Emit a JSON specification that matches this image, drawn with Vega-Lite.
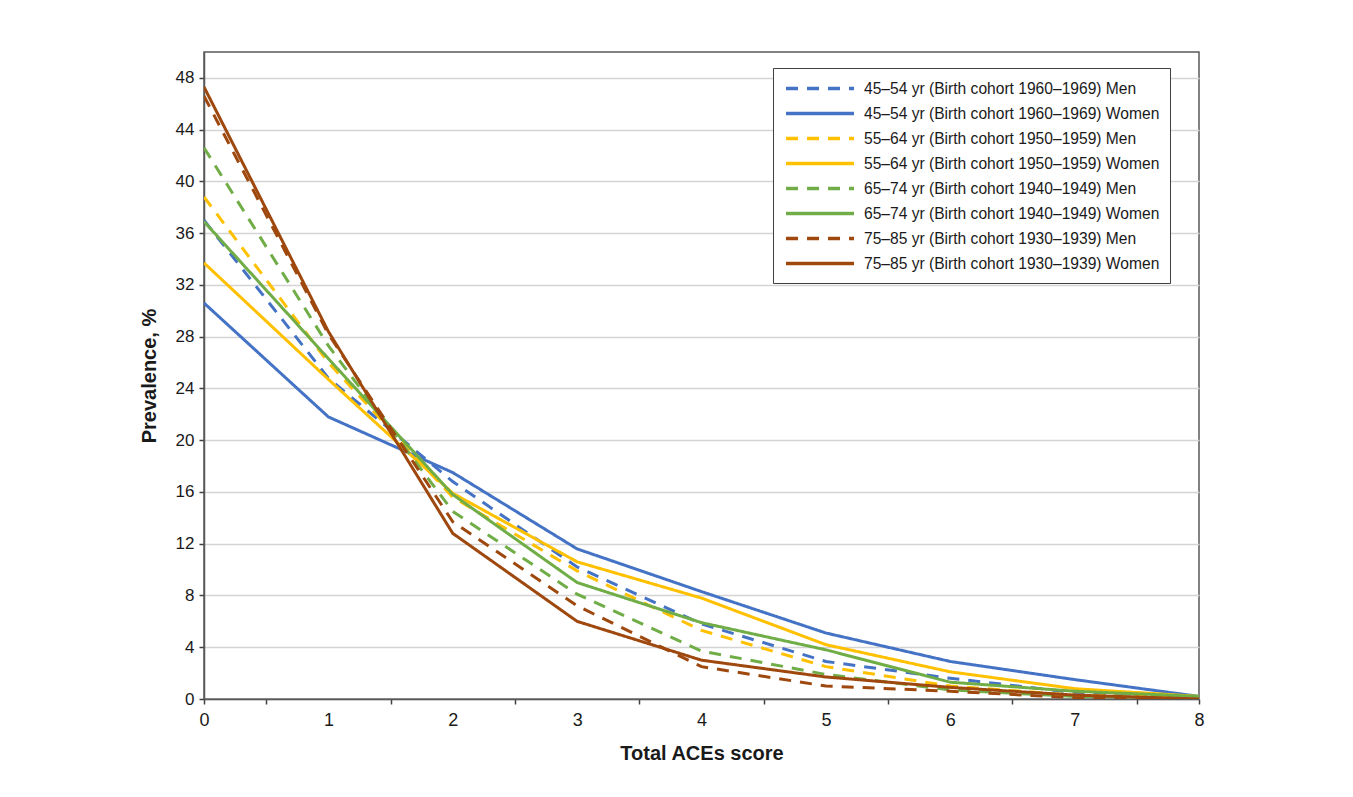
{
  "$schema": "https://vega.github.io/schema/vega-lite/v6.json",
  "width": 995,
  "height": 647,
  "autosize": {"type": "none"},
  "padding": {"left": 204, "top": 52, "right": 154, "bottom": 98},
  "background": "white",
  "config": {
    "font": "Liberation Sans",
    "view": {"stroke": "#595959", "strokeWidth": 1.5},
    "axis": {
      "domainColor": "#595959",
      "domainWidth": 1.5,
      "tickColor": "#404040",
      "tickWidth": 1.5,
      "tickSize": 5,
      "labelColor": "#1a1a1a",
      "labelFontSize": 17,
      "titleFontSize": 20,
      "titleFontWeight": "bold",
      "titleColor": "#1a1a1a"
    },
    "legend": {
      "orient": "none",
      "legendX": 569,
      "legendY": 16,
      "padding": 10,
      "strokeColor": "#404040",
      "fillColor": "white",
      "symbolSize": 289,
      "symbolStrokeWidth": 3.5,
      "symbolType": "M-0.88,0H7.12",
      "labelFontSize": 15.6,
      "labelColor": "#1a1a1a",
      "labelLimit": 400,
      "labelOffset": 60,
      "rowPadding": 5
    }
  },
  "data": {
    "values": [
      {"score": 0, "series": "45–54 yr (Birth cohort 1960–1969) Men", "value": 37.0},
      {"score": 1, "series": "45–54 yr (Birth cohort 1960–1969) Men", "value": 24.8},
      {"score": 2, "series": "45–54 yr (Birth cohort 1960–1969) Men", "value": 16.8},
      {"score": 3, "series": "45–54 yr (Birth cohort 1960–1969) Men", "value": 10.2},
      {"score": 4, "series": "45–54 yr (Birth cohort 1960–1969) Men", "value": 5.8},
      {"score": 5, "series": "45–54 yr (Birth cohort 1960–1969) Men", "value": 2.9},
      {"score": 6, "series": "45–54 yr (Birth cohort 1960–1969) Men", "value": 1.6},
      {"score": 7, "series": "45–54 yr (Birth cohort 1960–1969) Men", "value": 0.5},
      {"score": 8, "series": "45–54 yr (Birth cohort 1960–1969) Men", "value": 0.1},
      {"score": 0, "series": "45–54 yr (Birth cohort 1960–1969) Women", "value": 30.6},
      {"score": 1, "series": "45–54 yr (Birth cohort 1960–1969) Women", "value": 21.8},
      {"score": 2, "series": "45–54 yr (Birth cohort 1960–1969) Women", "value": 17.5},
      {"score": 3, "series": "45–54 yr (Birth cohort 1960–1969) Women", "value": 11.6},
      {"score": 4, "series": "45–54 yr (Birth cohort 1960–1969) Women", "value": 8.3},
      {"score": 5, "series": "45–54 yr (Birth cohort 1960–1969) Women", "value": 5.1},
      {"score": 6, "series": "45–54 yr (Birth cohort 1960–1969) Women", "value": 2.9},
      {"score": 7, "series": "45–54 yr (Birth cohort 1960–1969) Women", "value": 1.5},
      {"score": 8, "series": "45–54 yr (Birth cohort 1960–1969) Women", "value": 0.2},
      {"score": 0, "series": "55–64 yr (Birth cohort 1950–1959) Men", "value": 38.8},
      {"score": 1, "series": "55–64 yr (Birth cohort 1950–1959) Men", "value": 26.0},
      {"score": 2, "series": "55–64 yr (Birth cohort 1950–1959) Men", "value": 15.6},
      {"score": 3, "series": "55–64 yr (Birth cohort 1950–1959) Men", "value": 9.9},
      {"score": 4, "series": "55–64 yr (Birth cohort 1950–1959) Men", "value": 5.3},
      {"score": 5, "series": "55–64 yr (Birth cohort 1950–1959) Men", "value": 2.5},
      {"score": 6, "series": "55–64 yr (Birth cohort 1950–1959) Men", "value": 1.0},
      {"score": 7, "series": "55–64 yr (Birth cohort 1950–1959) Men", "value": 0.3},
      {"score": 8, "series": "55–64 yr (Birth cohort 1950–1959) Men", "value": 0.1},
      {"score": 0, "series": "55–64 yr (Birth cohort 1950–1959) Women", "value": 33.7},
      {"score": 1, "series": "55–64 yr (Birth cohort 1950–1959) Women", "value": 24.7},
      {"score": 2, "series": "55–64 yr (Birth cohort 1950–1959) Women", "value": 15.9},
      {"score": 3, "series": "55–64 yr (Birth cohort 1950–1959) Women", "value": 10.6},
      {"score": 4, "series": "55–64 yr (Birth cohort 1950–1959) Women", "value": 7.8},
      {"score": 5, "series": "55–64 yr (Birth cohort 1950–1959) Women", "value": 4.2},
      {"score": 6, "series": "55–64 yr (Birth cohort 1950–1959) Women", "value": 2.1},
      {"score": 7, "series": "55–64 yr (Birth cohort 1950–1959) Women", "value": 0.8},
      {"score": 8, "series": "55–64 yr (Birth cohort 1950–1959) Women", "value": 0.2},
      {"score": 0, "series": "65–74 yr (Birth cohort 1940–1949) Men", "value": 42.6},
      {"score": 1, "series": "65–74 yr (Birth cohort 1940–1949) Men", "value": 27.3},
      {"score": 2, "series": "65–74 yr (Birth cohort 1940–1949) Men", "value": 14.5},
      {"score": 3, "series": "65–74 yr (Birth cohort 1940–1949) Men", "value": 8.1},
      {"score": 4, "series": "65–74 yr (Birth cohort 1940–1949) Men", "value": 3.7},
      {"score": 5, "series": "65–74 yr (Birth cohort 1940–1949) Men", "value": 1.9},
      {"score": 6, "series": "65–74 yr (Birth cohort 1940–1949) Men", "value": 0.7},
      {"score": 7, "series": "65–74 yr (Birth cohort 1940–1949) Men", "value": 0.2},
      {"score": 8, "series": "65–74 yr (Birth cohort 1940–1949) Men", "value": 0.1},
      {"score": 0, "series": "65–74 yr (Birth cohort 1940–1949) Women", "value": 36.9},
      {"score": 1, "series": "65–74 yr (Birth cohort 1940–1949) Women", "value": 26.3},
      {"score": 2, "series": "65–74 yr (Birth cohort 1940–1949) Women", "value": 15.8},
      {"score": 3, "series": "65–74 yr (Birth cohort 1940–1949) Women", "value": 9.0},
      {"score": 4, "series": "65–74 yr (Birth cohort 1940–1949) Women", "value": 5.9},
      {"score": 5, "series": "65–74 yr (Birth cohort 1940–1949) Women", "value": 3.8},
      {"score": 6, "series": "65–74 yr (Birth cohort 1940–1949) Women", "value": 1.3},
      {"score": 7, "series": "65–74 yr (Birth cohort 1940–1949) Women", "value": 0.6},
      {"score": 8, "series": "65–74 yr (Birth cohort 1940–1949) Women", "value": 0.2},
      {"score": 0, "series": "75–85 yr (Birth cohort 1930–1939) Men", "value": 46.6},
      {"score": 1, "series": "75–85 yr (Birth cohort 1930–1939) Men", "value": 28.2},
      {"score": 2, "series": "75–85 yr (Birth cohort 1930–1939) Men", "value": 13.7},
      {"score": 3, "series": "75–85 yr (Birth cohort 1930–1939) Men", "value": 7.2},
      {"score": 4, "series": "75–85 yr (Birth cohort 1930–1939) Men", "value": 2.5},
      {"score": 5, "series": "75–85 yr (Birth cohort 1930–1939) Men", "value": 1.0},
      {"score": 6, "series": "75–85 yr (Birth cohort 1930–1939) Men", "value": 0.6},
      {"score": 7, "series": "75–85 yr (Birth cohort 1930–1939) Men", "value": 0.1},
      {"score": 8, "series": "75–85 yr (Birth cohort 1930–1939) Men", "value": 0.0},
      {"score": 0, "series": "75–85 yr (Birth cohort 1930–1939) Women", "value": 47.3},
      {"score": 1, "series": "75–85 yr (Birth cohort 1930–1939) Women", "value": 28.4},
      {"score": 2, "series": "75–85 yr (Birth cohort 1930–1939) Women", "value": 12.8},
      {"score": 3, "series": "75–85 yr (Birth cohort 1930–1939) Women", "value": 6.0},
      {"score": 4, "series": "75–85 yr (Birth cohort 1930–1939) Women", "value": 3.0},
      {"score": 5, "series": "75–85 yr (Birth cohort 1930–1939) Women", "value": 1.7},
      {"score": 6, "series": "75–85 yr (Birth cohort 1930–1939) Women", "value": 0.9},
      {"score": 7, "series": "75–85 yr (Birth cohort 1930–1939) Women", "value": 0.3},
      {"score": 8, "series": "75–85 yr (Birth cohort 1930–1939) Women", "value": 0.0}
    ]
  },
  "mark": {"type": "line", "strokeWidth": 3, "strokeCap": "butt", "clip": true},
  "encoding": {
    "x": {
      "field": "score",
      "type": "quantitative",
      "scale": {"domain": [0, 8], "nice": false, "zero": false},
      "axis": {
        "title": "Total ACEs score",
        "values": [0, 0.5, 1, 1.5, 2, 2.5, 3, 3.5, 4, 4.5, 5, 5.5, 6, 6.5, 7, 7.5, 8],
        "labelExpr": "datum.value % 1 === 0 ? format(datum.value, 'd') : ''",
        "labelFlush": false,
        "tickOpacity": {"expr": "(datum.value % 1 === 0 && datum.value > 0 && datum.value < 8) ? 0 : 1"},
        "grid": false,
        "labelFontSize": 18,
        "labelPadding": 7,
        "titlePadding": 14
      }
    },
    "y": {
      "field": "value",
      "type": "quantitative",
      "scale": {"domain": [0, 50], "nice": false},
      "axis": {
        "title": "Prevalence, %",
        "values": [0, 4, 8, 12, 16, 20, 24, 28, 32, 36, 40, 44, 48],
        "grid": true,
        "gridColor": "#d4d4d4",
        "gridWidth": 1.5,
        "labelPadding": 5,
        "titlePadding": 16
      }
    },
    "color": {
      "field": "series",
      "type": "nominal",
      "scale": {
        "domain": [
          "45–54 yr (Birth cohort 1960–1969) Men",
          "45–54 yr (Birth cohort 1960–1969) Women",
          "55–64 yr (Birth cohort 1950–1959) Men",
          "55–64 yr (Birth cohort 1950–1959) Women",
          "65–74 yr (Birth cohort 1940–1949) Men",
          "65–74 yr (Birth cohort 1940–1949) Women",
          "75–85 yr (Birth cohort 1930–1939) Men",
          "75–85 yr (Birth cohort 1930–1939) Women"
        ],
        "range": ["#4472C4", "#4472C4", "#FFC000", "#FFC000", "#70AD47", "#70AD47", "#9E480E", "#9E480E"]
      },
      "legend": {"title": null}
    },
    "strokeDash": {
      "field": "series",
      "type": "nominal",
      "scale": {
        "domain": [
          "45–54 yr (Birth cohort 1960–1969) Men",
          "45–54 yr (Birth cohort 1960–1969) Women",
          "55–64 yr (Birth cohort 1950–1959) Men",
          "55–64 yr (Birth cohort 1950–1959) Women",
          "65–74 yr (Birth cohort 1940–1949) Men",
          "65–74 yr (Birth cohort 1940–1949) Women",
          "75–85 yr (Birth cohort 1930–1939) Men",
          "75–85 yr (Birth cohort 1930–1939) Women"
        ],
        "range": [[12, 9], [1, 0], [12, 9], [1, 0], [12, 9], [1, 0], [12, 9], [1, 0]]
      },
      "legend": {"title": null}
    }
  }
}
